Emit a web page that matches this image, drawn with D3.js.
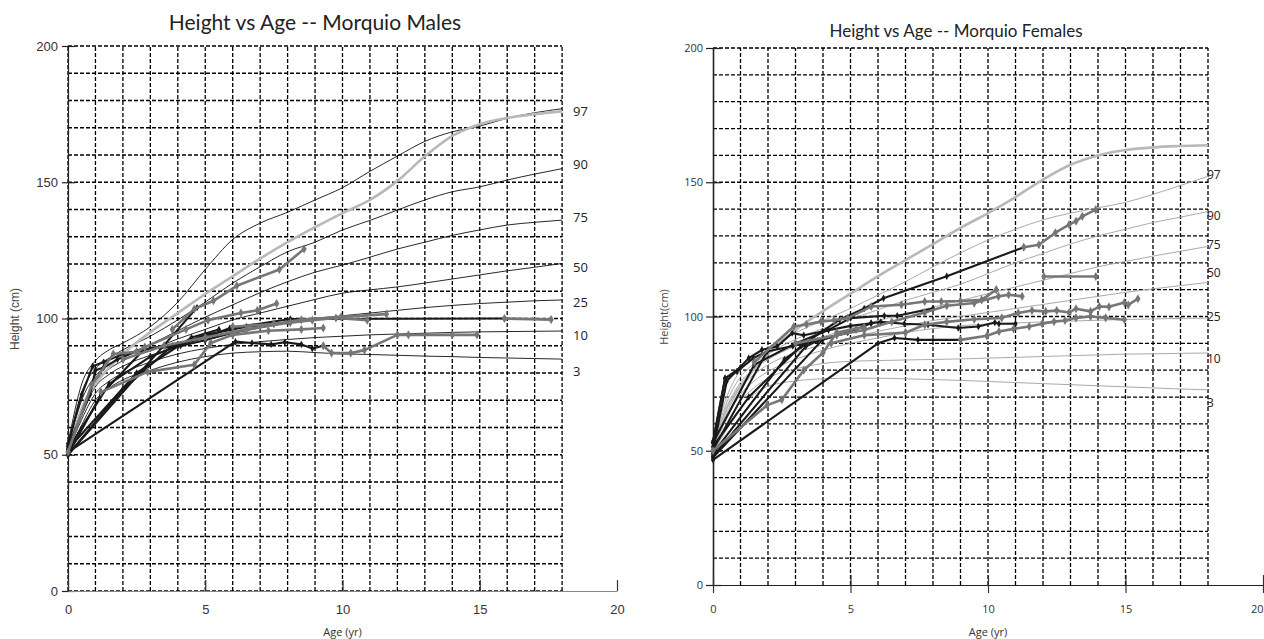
<!DOCTYPE html>
<html>
<head>
<meta charset="utf-8">
<script src="https://cdn.jsdelivr.net/npm/d3@7"></script>
<style>
  body { margin: 0; background: #fff; }
  svg { display: block; }
</style>
</head>
<body>
<script>
// ages at which the percentile curves are sampled
const ages = [0, 0.5, 1, 1.5, 2, 3, 4, 5, 6, 7, 8, 9, 10, 11, 12, 13, 14, 15, 16, 17, 18];
const pctNames = ["97", "90", "75", "50", "25", "10", "3"];

// Morquio males percentiles (cm)
const m97 = [54, 76, 84.5, 88.5, 91, 97, 106, 118, 129, 135, 139, 143.5, 148, 154, 159.6, 165, 168.5, 170.6, 173.5, 175.5, 177];
const m90 = [53, 73, 81.5, 85.5, 88.5, 93.5, 99.5, 106, 113, 119, 124.5, 128, 132.5, 136, 139.8, 143.5, 146.5, 148.3, 150.8, 153, 155];
const m75 = [52.5, 70, 79, 83, 86, 90.5, 95.5, 100.5, 105, 109.5, 113.5, 117, 119.6, 122.5, 125.5, 128, 130.5, 132.5, 134.3, 135.3, 136.1];
const m50 = [52, 67, 77, 81.5, 84.5, 88.5, 92.5, 96, 99.5, 102, 104.5, 107, 109.3, 110.5, 111.6, 113, 114.5, 116, 117.5, 118.8, 120.2];
const m25 = [51.5, 65, 75, 79.5, 82.5, 86.5, 89.5, 92, 94.5, 96.5, 98.5, 100, 101, 102, 103, 104, 104.8, 105.5, 106, 106.5, 106.8];
const m10 = [51, 63, 72.5, 77, 80, 84, 87, 89, 90.5, 91.5, 92.3, 93, 93.5, 94, 94.3, 94.6, 94.9, 95.1, 95.2, 95.3, 95.4];
const m3 = [50, 61, 70, 74.5, 77.5, 81, 84, 86, 87.3, 87.8, 88, 87.5, 87, 86.8, 86.5, 86.2, 86, 85.7, 85.5, 85.3, 85.1];
// normal boys, 50th
const mRef = [49.5, 67, 76, 82, 87, 95, 102, 109, 115.5, 122, 128, 133.5, 138.7, 143.5, 150.5, 159.5, 167, 171.3, 173.6, 175, 176];

// Morquio females percentiles (cm)
const f97 = [53, 70, 80, 85, 88.5, 94, 98.5, 103, 108, 113, 118.5, 123.7, 128.5, 132.5, 136, 138.5, 140.5, 142.5, 145.5, 148.8, 152.2];
const f90 = [52, 68, 77.5, 82.5, 86, 91.5, 95.5, 99, 102.5, 106, 109, 112, 116, 120, 123.5, 127, 130, 132.5, 135, 137, 139.1];
const f75 = [51.5, 66, 75.5, 80.5, 84, 89, 92.5, 95.5, 98.5, 101, 103.5, 106, 108.5, 111, 113.5, 116, 118.5, 120.5, 122.5, 124.3, 126.1];
const f50 = [51, 64, 73.5, 78.5, 82, 86.5, 89.5, 92, 94.5, 96.5, 98.5, 100, 101.5, 103, 104.5, 106, 107.5, 109, 110.3, 111.5, 112.7];
const f25 = [50.5, 62, 71, 76, 79.5, 84, 87.5, 90, 92, 94, 95.5, 96.5, 97.2, 97.6, 98, 98.3, 98.6, 98.9, 99.1, 99.3, 99.4];
const f10 = [50, 60, 68.5, 73.5, 77, 80.5, 82.5, 83.3, 83.6, 83.8, 84, 84.2, 84.5, 84.8, 85.1, 85.4, 85.7, 86, 86.1, 86.3, 86.4];
const f3 = [49.5, 58, 66, 71, 74, 76, 76.8, 77, 77, 76.8, 76.5, 76.2, 75.8, 75.4, 75, 74.6, 74.2, 73.8, 73.4, 73, 72.7];
// normal girls, 50th
const fRef = [49, 66, 74, 80.5, 86, 95, 102, 108.5, 115, 121, 127, 133, 138.5, 144.5, 151, 156.5, 160, 162, 163, 163.5, 163.8];

// label heights (cm) for the percentile names at the right edge
const mLabelAt = [175.8, 156.7, 136.9, 118.9, 106, 93.6, 80.7];
const fLabelAt = [152.8, 137.5, 126.7, 116.3, 99.9, 84.2, 67.8];

// patients, [age, height]
const maleBlack = [
  [[0, 50], [4.7, 104]],
  [[0, 53], [0.8, 72], [1.0, 81], [1.3, 82], [1.8, 85], [2.5, 88], [3.5, 90], [4.1, 90.5], [5, 93], [5.9, 96.5], [8.1, 99.8], [15.9, 100]],
  [[0, 51], [6.1, 91.5], [6.7, 91], [7.4, 90.5], [7.9, 91.3], [8.5, 90.5], [8.9, 89], [9.3, 90]],
  [[0, 54], [0.5, 72], [0.9, 82.5], [1.3, 84], [2, 87], [3, 89], [3.7, 89.5], [4.1, 90], [5, 92], [6, 95]],
  [[0, 52], [1.5, 76], [3, 86], [4, 90], [5, 94], [6.5, 97], [8, 98.5]],
  [[0, 50], [1.2, 72], [2.8, 89]],
  [[0, 50], [2, 74], [3.8, 90]],
  [[0, 52], [2.5, 80], [4.5, 93], [5.5, 96]]
];
const maleGray = [
  [[3.8, 96], [4.6, 103.5], [5.3, 106.5], [6.15, 112], [7.7, 118], [8.6, 125.5]],
  [[0, 51], [0.86, 75.6], [1.65, 87], [2.5, 87.7], [2.8, 89.5], [4.3, 96], [5.1, 99.4], [6.3, 102], [6.9, 103], [7.6, 105.5]],
  [[2, 85], [3.5, 90], [5, 93], [6.5, 96], [8.1, 98.5], [8.9, 99.4], [9.76, 100.2], [10.9, 99.4]],
  [[6, 97], [7.5, 98], [8.5, 99.5], [9.95, 100.6], [11.6, 101.6]],
  [[15.9, 100], [17.6, 99.6]],
  [[1.2, 73], [2.9, 80.4], [4.6, 83], [5.2, 91], [6.0, 94], [7.3, 95.5], [8.5, 96], [9.3, 96.5]],
  [[9.3, 90], [9.6, 87.3], [10.3, 87.3], [10.8, 88.4], [12.0, 94], [12.4, 94], [14, 94], [14.9, 94]]
];
const femaleBlack = [
  [[0, 51.5], [1.3, 70], [3.2, 89], [4.6, 98.8], [5.5, 103], [6.2, 106.8], [8.5, 115], [11.3, 125.8]],
  [[0, 46.6], [6, 90], [6.6, 92], [7.45, 91.3], [9.0, 91.3]],
  [[0, 53], [0.44, 77], [0.87, 79.5], [1.47, 84.5], [1.97, 87], [2.9, 89], [3.8, 91], [4.9, 94], [5.75, 97.5], [6.1, 98], [6.96, 97.3], [7.82, 96.9], [8.92, 95.7], [9.65, 96.3], [10.25, 97.8], [10.4, 97.3], [11.0, 97.3]],
  [[0, 50], [0.5, 76], [1.3, 84.5], [1.78, 87.6], [2.33, 88.8], [2.88, 93.8], [3.3, 93], [3.98, 94.4], [5, 96.5], [5.75, 97.5]],
  [[0, 53], [1.5, 82], [3, 90], [4.2, 95], [5, 99.4], [6.23, 100.3], [6.7, 100.3], [8.0, 103]],
  [[0, 50.3], [2.0, 87.6]],
  [[0, 49], [2.6, 84], [3.4, 90]],
  [[0, 48], [3.37, 88.8], [4, 92]],
  [[0, 47.5], [3.98, 91.3], [5.2, 95]],
  [[0, 53.5], [0.44, 77], [1.0, 81]]
];
const femaleGray = [
  [[11.3, 125.8], [11.85, 126.7], [12.45, 131.2], [12.95, 134.2], [13.2, 135.5], [13.43, 137.3], [13.92, 139.8]],
  [[9.0, 91.3], [9.96, 92.8], [10.4, 94.4], [10.93, 95.4], [11.5, 96.3], [11.97, 97.3], [12.4, 98.1], [12.8, 98.5], [13.2, 99.5], [13.73, 100], [14.28, 99.5], [14.96, 98.8]],
  [[0, 50], [1.97, 67], [2.5, 69], [3.3, 80], [4, 86.5], [4.5, 94], [5.5, 96]],
  [[1.5, 83], [2.94, 96.3], [3.4, 97], [3.92, 98.1], [4.4, 98.6], [4.9, 99.4], [5.75, 103.7], [6.85, 104.4], [7.7, 105.6], [8.3, 105.6], [9.0, 105.8], [9.77, 106.2], [10.3, 110]],
  [[3, 90], [4.5, 93], [5.5, 95], [6.5, 98], [7.7, 101.5], [8.5, 104], [9.5, 105], [10.38, 107.5], [10.75, 108.1], [11.24, 107.5]],
  [[4.3, 90], [5.5, 93], [7, 94], [7.7, 96.9], [8.5, 98], [9.5, 99], [10.5, 99.5], [11.1, 101.3], [11.6, 102.2], [12.1, 101.9], [12.5, 102.2], [12.95, 101.5], [13.2, 102.9], [13.73, 101.9], [14.05, 103.7], [14.4, 103.6], [14.96, 105.2], [15.1, 104.3], [15.45, 106.6]],
  [[12.03, 114.9], [13.92, 114.9]]
];

const yTicks = [0, 50, 100, 150, 200];
const xTicks = [0, 5, 10, 15, 20];

const svg = d3.select("body").append("svg")
  .attr("width", 1264)
  .attr("height", 639);

function drawChart(c) {
  const x = d3.scaleLinear().domain([0, 20]).range([c.x0, c.x20]);
  const y = d3.scaleLinear().domain([0, 200]).range([c.y0, c.y200]);
  const g = svg.append("g");

  // dashed grid, 1 yr by 10 cm, up to 18 yr
  const grid = g.append("g")
    .attr("stroke", "#000")
    .attr("stroke-width", 1.3)
    .attr("stroke-dasharray", "4,2");
  grid.selectAll(".v").data(d3.range(c.gridFrom, 19)).join("line")
    .attr("x1", d => x(d)).attr("x2", d => x(d))
    .attr("y1", y(0)).attr("y2", y(200));
  grid.selectAll(".h").data(d3.range(c.gridFromY, 201, 10)).join("line")
    .attr("x1", x(0)).attr("x2", x(18))
    .attr("y1", d => y(d)).attr("y2", d => y(d));

  // y axis
  const ya = g.append("g")
    .attr("transform", `translate(${x(0)},0)`)
    .call(d3.axisLeft(y).tickValues(yTicks).tickSize(c.tickOut).tickSizeOuter(0).tickPadding(c.yPad));
  ya.select(".domain").attr("stroke", "#222").attr("stroke-width", c.yAxisW);
  ya.selectAll(".tick line").attr("x2", -c.tickOut).attr("x1", c.tickIn).attr("stroke", "#222").attr("stroke-width", 1.2);
  ya.selectAll(".tick text").attr("font-family", c.tickFont).attr("font-size", c.tickSize).attr("fill", "#333");

  // x axis
  const xa = g.append("g")
    .attr("transform", `translate(0,${y(0)})`)
    .call(d3.axisBottom(x).tickValues(xTicks).tickSize(0).tickSizeOuter(0).tickPadding(c.xPad));
  xa.select(".domain").attr("stroke", c.xAxisColor).attr("stroke-width", 1.2);
  xa.selectAll(".tick line").attr("y1", -c.xTickUp).attr("y2", c.xTickDown).attr("stroke", "#333").attr("stroke-width", 1.2);
  xa.selectAll(".tick text").attr("font-family", c.tickFont).attr("font-size", c.tickSize).attr("fill", "#333");
  // keep the last label inside the page
  xa.selectAll(".tick text").filter(d => x(d) > 1250).attr("text-anchor", "end");

  const smooth = d3.line().curve(d3.curveMonotoneX).x((d, i) => x(ages[i])).y(d => y(d));
  const straight = d3.line().x(d => x(d[0])).y(d => y(d[1]));

  // percentile curves
  g.append("g").selectAll("path").data(c.pcts).join("path")
    .attr("d", smooth)
    .attr("fill", "none")
    .attr("stroke", c.pctColor)
    .attr("stroke-width", c.pctWidth);

  // normal reference, 50th
  g.append("path").datum(c.ref)
    .attr("d", smooth)
    .attr("fill", "none")
    .attr("stroke", "#b8b8b8")
    .attr("stroke-width", 2.6);

  const diamond = d3.symbol().type(d3.symbolDiamond);

  function patients(series, color, width, msize) {
    const pg = g.append("g");
    pg.selectAll("path.l").data(series).join("path")
      .attr("class", "l")
      .attr("d", straight)
      .attr("fill", "none")
      .attr("stroke", color)
      .attr("stroke-width", width)
      .attr("stroke-linejoin", "round");
    pg.selectAll("path.m").data(series.flat()).join("path")
      .attr("class", "m")
      .attr("transform", d => `translate(${x(d[0])},${y(d[1])})`)
      .attr("d", diamond.size(msize)())
      .attr("fill", color);
  }
  patients(c.black, "#1a1a1a", 2.1, 16);
  patients(c.gray, "#767676", 2.6, 24);

  // percentile names
  g.append("g").selectAll("text").data(pctNames).join("text")
    .attr("x", c.labelX)
    .attr("y", (d, i) => y(c.labelAt[i]))
    .attr("dy", "0.35em")
    .attr("font-family", "Open Sans, sans-serif")
    .attr("font-size", c.labelSize)
    .attr("fill", "#222")
    .text(d => d);

  // titles
  g.append("text")
    .attr("x", c.titleX).attr("y", c.titleY)
    .attr("text-anchor", "middle")
    .attr("font-family", "Lato, sans-serif")
    .attr("font-size", c.titleSize)
    .attr("fill", "#222")
    .text(c.title);
  g.append("text")
    .attr("transform", `translate(${c.yLabX},${c.yLabY}) rotate(-90)`)
    .attr("text-anchor", "middle")
    .attr("font-family", c.labFont)
    .attr("font-size", c.yLabSize)
    .attr("fill", "#444")
    .text(c.yLabel);
  g.append("text")
    .attr("x", x(10)).attr("y", c.xLabY)
    .attr("text-anchor", "middle")
    .attr("font-family", "Open Sans, sans-serif")
    .attr("font-size", 11)
    .attr("fill", "#333")
    .text("Age (yr)");
}

drawChart({
  x0: 68, x20: 617, y0: 591, y200: 46,
  gridFrom: 0, gridFromY: 0,
  tickOut: 6, tickIn: 7, yPad: 4, yAxisW: 1.2,
  xTickUp: 11, xTickDown: 0, xPad: 14, xAxisColor: "#888",
  tickFont: "Liberation Sans, Arial, sans-serif", tickSize: 13,
  pcts: [m97, m90, m75, m50, m25, m10, m3], ref: mRef,
  pctColor: "#111", pctWidth: 0.9,
  black: maleBlack, gray: maleGray,
  labelX: 573, labelAt: mLabelAt, labelSize: 13,
  title: "Height vs Age -- Morquio Males", titleX: 315, titleY: 30, titleSize: 21,
  yLabel: "Height (cm)", yLabX: 19, yLabY: 319, yLabSize: 12, labFont: "Liberation Sans, Arial, sans-serif",
  xLabY: 636
});

drawChart({
  x0: 713, x20: 1263, y0: 585, y200: 48,
  gridFrom: 1, gridFromY: 10,
  tickOut: 7, tickIn: 8, yPad: 3, yAxisW: 1.6,
  xTickUp: 10, xTickDown: 8, xPad: 20, xAxisColor: "#222",
  tickFont: "Open Sans, sans-serif", tickSize: 11,
  pcts: [f97, f90, f75, f50, f25, f10, f3], ref: fRef,
  pctColor: "#aaaaaa", pctWidth: 1,
  black: femaleBlack, gray: femaleGray,
  labelX: 1207, labelAt: fLabelAt, labelSize: 12,
  title: "Height vs Age -- Morquio Females", titleX: 956, titleY: 37, titleSize: 17,
  yLabel: "Height(cm)", yLabX: 668, yLabY: 317, yLabSize: 11, labFont: "Open Sans, sans-serif",
  xLabY: 636
});
</script>
</body>
</html>
